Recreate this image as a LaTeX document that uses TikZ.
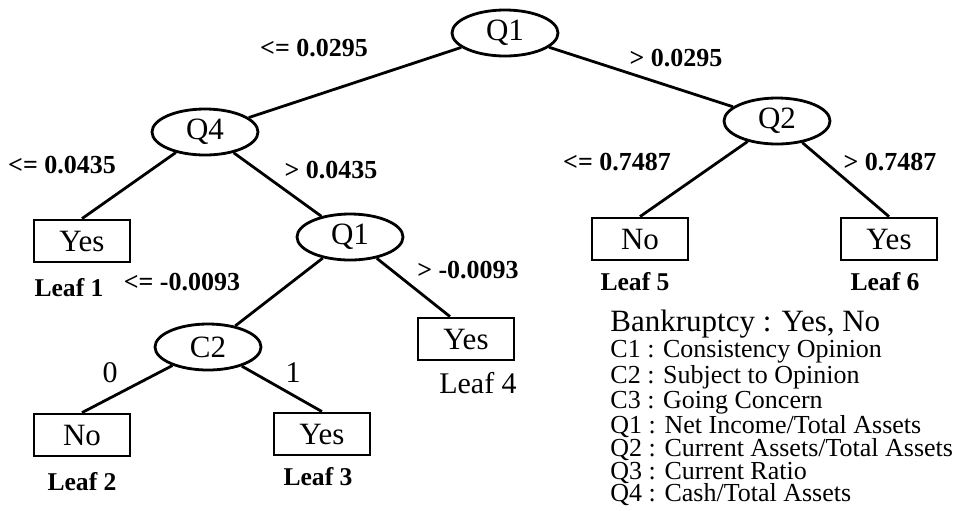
\documentclass[tikz,border=0pt]{standalone}
\usepackage{fontspec}
\setmainfont{Liberation Serif}
\usetikzlibrary{positioning,shapes.geometric}

\begin{document}
\begin{tikzpicture}[
  x=0.5pt, y=-0.5pt,
  split/.style={draw, ellipse, line width=1.4pt, minimum width=53pt,
                minimum height=23pt, inner sep=0pt,
                font=\fontsize{15.5}{15.5}\selectfont},
  leaf/.style={draw, rectangle, line width=1.4pt, minimum width=48pt,
               minimum height=21pt, inner sep=0pt,
               font=\fontsize{15.5}{15.5}\selectfont},
  cond/.style={inner sep=0pt, font=\fontsize{13}{13}\selectfont\bfseries},
  tag/.style={inner sep=0pt, font=\fontsize{12.8}{12.8}\selectfont\bfseries},
  branch/.style={line width=1.4pt}
]
\useasboundingbox (0,0) rectangle (968,510);

\node[split] (root)   at (505,33)  {Q1};
\node[split] (cash)   at (205,132) {Q4};
\node[split] (curr)   at (777,121) {Q2};
\node[split] (income) at (350,237) {Q1};
\node[split] (subj)   at (208,347) {C2};

\node[leaf] (leafA) at (82,241)  {Yes};
\node[leaf] (leafB) at (82,435)  {No};
\node[leaf] (leafC) at (322,434) {Yes};
\node[leaf] (leafD) at (466,339) {Yes};
\node[leaf] (leafE) at (640,239) {No};
\node[leaf] (leafF) at (889,239) {Yes};

\draw[branch] (root)   -- (cash);
\draw[branch] (root)   -- (curr);
\draw[branch] (cash)   -- (leafA.north);
\draw[branch] (cash)   -- (income);
\draw[branch] (curr)   -- (leafE.north);
\draw[branch] (curr)   -- (leafF.north);
\draw[branch] (income) -- (subj);
\draw[branch] (income) -- ([xshift=-8pt]leafD.north);
\draw[branch] (subj)   -- (leafB.north);
\draw[branch] (subj)   -- (leafC.north);

\node[cond] (c1) at (314,48)  {<= 0.0295};
\node[cond] (c2) at (676,58)  {> 0.0295};
\node[cond] (c3) at (62,165)  {<= 0.0435};
\node[cond] (c4) at (331,170) {> 0.0435};
\node[cond] (c5) at (617,162) {<= 0.7487};
\node[cond] (c6) at (890,162) {> 0.7487};
\node[cond] (c7) at (182,282) {<= -0.0093};
\node[cond] (c8) at (468,270) {> -0.0093};
\node[inner sep=0pt, font=\fontsize{15}{15}\selectfont] (c9)  at (110,373) {0};
\node[inner sep=0pt, font=\fontsize{15}{15}\selectfont] (c10) at (293,373) {1};

\node[tag] (tagA) at (69,288)  {Leaf 1};
\node[tag] (tagB) at (82,482)  {Leaf 2};
\node[tag] (tagC) at (318,477) {Leaf 3};
\node[inner sep=0pt, font=\fontsize{15}{15}\selectfont] (tagD) at (478,383) {Leaf 4};
\node[tag] (tagE) at (635,282) {Leaf 5};
\node[tag] (tagF) at (885,282) {Leaf 6};

\node[anchor=north west, inner sep=0pt, align=left,
      font=\fontsize{13}{11.3}\selectfont] (legend) at (610,310)
  {{\fontsize{15.5}{12}\selectfont Bankruptcy : Yes, No}\\
   C1 : Consistency Opinion\\
   C2 : Subject to Opinion\\
   C3 : Going Concern\\
   Q1 : Net Income/Total Assets\\
   Q2 : Current Assets/Total Assets\\
   Q3 : Current Ratio\\
   Q4 : Cash/Total Assets};
\end{tikzpicture}
\end{document}
